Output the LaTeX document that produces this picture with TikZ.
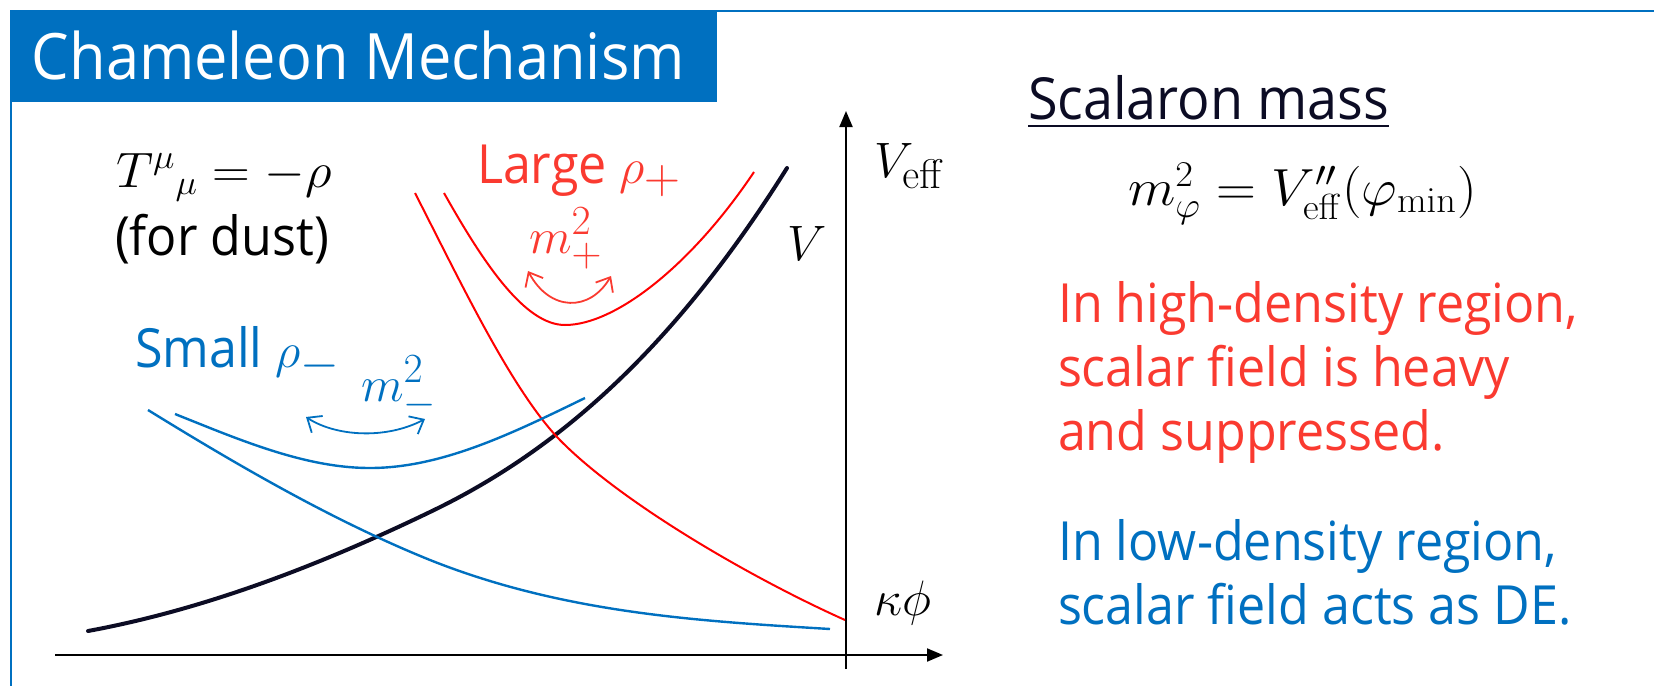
\documentclass[tikz,border=0pt]{standalone}
\usepackage[no-math]{fontspec}
\usepackage{amsmath}
\setmainfont{Open Sans}[FakeStretch=0.93]
\usetikzlibrary{arrows.meta,calc}
\definecolor{tblue}{RGB}{0,112,192}
\definecolor{cred}{RGB}{255,0,0}
\definecolor{txtred}{RGB}{250,58,48}
\definecolor{navy}{RGB}{12,12,36}
\newcommand{\rhobig}[1]{{\fontsize{34}{34}\selectfont$#1$}}
\begin{document}
\begin{tikzpicture}[x=0.5pt,y=-0.5pt,
  blackcurve/.style={draw=navy,line width=2pt,line cap=round},
  redcurve/.style={draw=cred,line width=1pt},
  bluecurve/.style={draw=tblue,line width=1.2pt},
  axisline/.style={line width=1pt,-{Triangle[length=8pt,width=6.5pt]}},
  oscill/.style={line width=0.9pt,{Straight Barb[length=6pt,width=10pt]}-{Straight Barb[length=6pt,width=10pt]}},
  lbl/.style={anchor=base west,inner sep=0pt,outer sep=0pt},
  sidetxt/.style={lbl,font=\fontsize{27}{32}\selectfont},
  mathlbl/.style={lbl,font=\fontsize{30}{34}\selectfont}]
\useasboundingbox (0,0) rectangle (1654,686);
% frame
\draw[tblue,line width=0.8pt] (10,11) -- (1654,11);
\draw[tblue,line width=0.8pt] (11,11) -- (11,686);
\fill[tblue] (10,10) rectangle (717,102);
\node[lbl,text=white,font=\fontsize{32}{36}\selectfont] (title) at (32,79) {Chameleon Mechanism};
% axes
\coordinate (yb) at (846,669);
\coordinate (yt) at (846,111);
\coordinate (xl) at (55,655);
\coordinate (xr) at (943,655);
\draw[axisline] (yb) -- (yt);
\draw[axisline] (xl) -- (xr);
% curves
\draw[blackcurve] (88,631) .. controls (202,610) and (316,567) .. (430,512)
                          .. controls (549,455) and (668,358) .. (787,168);
\draw[redcurve] (415,193) .. controls (462,285) and (510,386) .. (557,437)
                          .. controls (617,500) and (749,577) .. (845,620);
\draw[redcurve] (444,193) .. controls (484,264) and (525,325) .. (565,325)
                          .. controls (615,325) and (691,266) .. (754,172);
\draw[bluecurve] (148,410) .. controls (242,468) and (336,522) .. (430,560)
                           .. controls (563,613) and (697,621) .. (830,629);
\draw[bluecurve] (175,414) .. controls (240,440) and (305,468) .. (370,468)
                           .. controls (442,468) and (513,433) .. (585,398);
% oscillation arrows
\coordinate (ra) at (528,271);
\coordinate (rb) at (611,276);
\draw[oscill,draw=txtred] (ra) .. controls (550,312) and (590,312) .. (rb);
\coordinate (ba) at (306,417);
\coordinate (bb) at (425,419);
\draw[oscill,draw=tblue] (ba) .. controls (335,436) and (385,440) .. (bb);
% labels
\node[lbl,font=\fontsize{26.5}{30}\selectfont] (tmu) at (116,187) {\scalebox{1.05}[1]{${T^{\mu}}_{\mu} = -\rho$}};
\node[sidetxt] (dust) at (115,255) {(for dust)};
\node[sidetxt,text=tblue] (small) at (135,367) {Small \rhobig{\rho_{-}}};
\node[mathlbl,text=tblue] (mminus) at (361,401) {$m_{-}^{2}$};
\node[sidetxt,text=txtred] (large) at (477,183) {Large \rhobig{\rho_{+}}};
\node[mathlbl,text=txtred] (mplus) at (529,253) {$m_{+}^{2}$};
\node[lbl,font=\fontsize{29}{32}\selectfont] (vlab) at (787,260) {$V$};
\node[lbl,font=\fontsize{29}{32}\selectfont] (veff) at (874,177) {$V_{\mathrm{eff}}$};
\node[lbl,font=\fontsize{32}{34}\selectfont] (kphi) at (874,615) {$\kappa\phi$};
% right side
\node[lbl,text=navy,font=\fontsize{29}{32}\selectfont] (scal) at (1028,119) {Scalaron mass};
\draw[navy,line width=1pt] ($(scal.base west)+(0,7)$) -- ($(scal.base east)+(0,7)$);
\node[lbl,font=\fontsize{26}{28}\selectfont] (meq) at (1128,205) {\scalebox{1.11}[1.05]{$m_\varphi^2 = V_{\mathrm{eff}}''(\varphi_{\min})$}};
\node[sidetxt,text=txtred] (h1) at (1058,322) {In high-density region,};
\node[sidetxt,text=txtred] (h2) at (1058,386) {scalar field is heavy};
\node[sidetxt,text=txtred] (h3) at (1058,450) {and suppressed.};
\node[sidetxt,text=tblue] (l1) at (1058,560) {In low-density region,};
\node[sidetxt,text=tblue] (l2) at (1058,624) {scalar field acts as DE.};
\end{tikzpicture}
\end{document}
